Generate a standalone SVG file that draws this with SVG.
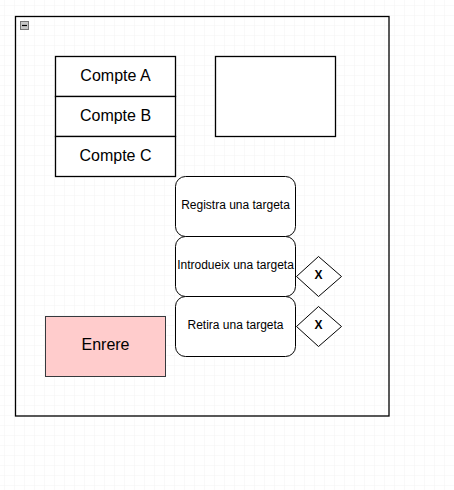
<svg xmlns="http://www.w3.org/2000/svg" width="454" height="490" viewBox="0 0 454 490">
<defs>
<pattern id="minor" x="5" y="6" width="10" height="10" patternUnits="userSpaceOnUse">
<path d="M10 0V10M0 10H10" fill="none" stroke="#f3f3f3" stroke-width="1"/>
</pattern>
<pattern id="major" x="-25" y="-24" width="40" height="40" patternUnits="userSpaceOnUse">
<path d="M40.5 0V40M0 40.5H40" fill="none" stroke="#e2e2e2" stroke-width="1"/>
</pattern>
<style>
.t{font-family:"Liberation Sans",Arial,sans-serif;text-anchor:middle;dominant-baseline:central;fill:#000}
.box{fill:#fff;stroke:#000;stroke-width:1.3}
.rbox{fill:#fff;stroke:#000;stroke-width:1}
.dia{fill:#fff;stroke:#000;stroke-width:1}
</style>
</defs>
<rect width="454" height="490" fill="#fff"/>
<rect width="454" height="490" fill="url(#minor)"/>
<rect width="454" height="490" fill="url(#major)"/>
<g id="container">
<rect x="15.5" y="16.5" width="373.5" height="399.5" fill="none" stroke="#000" stroke-width="1.3"/>
<rect x="20.5" y="21.5" width="8" height="8" fill="#c8c8c8" stroke="#777" stroke-width="1"/>
<path d="M22 25.5H27" stroke="#000" stroke-width="1.2"/>
</g>
<g id="compteA"><rect class="box" x="55.5" y="56.5" width="120" height="40"/><text class="t" x="115.5" y="75" font-size="16">Compte A</text></g>
<g id="compteB"><rect class="box" x="55.5" y="96.5" width="120" height="40"/><text class="t" x="115.5" y="115" font-size="16">Compte B</text></g>
<g id="compteC"><rect class="box" x="55.5" y="136.5" width="120" height="40"/><text class="t" x="115.5" y="155" font-size="16">Compte C</text></g>
<g id="empty"><rect class="box" x="215.5" y="56.5" width="120" height="80"/></g>
<g id="registra"><rect class="rbox" x="175.5" y="176.5" width="120" height="60" rx="10"/><text class="t" x="235.5" y="205" font-size="12">Registra una targeta</text></g>
<g id="introdueix"><rect class="rbox" x="175.5" y="236.5" width="120" height="60" rx="10"/><text class="t" x="235.5" y="265" font-size="12">Introdueix una targeta</text></g>
<g id="retira"><rect class="rbox" x="175.5" y="296.5" width="120" height="60" rx="10"/><text class="t" x="235.5" y="325" font-size="12">Retira una targeta</text></g>
<g id="gateway1"><path class="dia" d="M318.5 256.5L341.5 276.5L318.5 296.5L296.5 276.5Z"/><text class="t" x="318.5" y="275" font-size="12" font-weight="bold">X</text></g>
<g id="gateway2"><path class="dia" d="M318.5 306.5L341.5 326.5L318.5 346.5L296.5 326.5Z"/><text class="t" x="318.5" y="325" font-size="12" font-weight="bold">X</text></g>
<g id="enrere"><rect x="45.5" y="316.5" width="120" height="60" fill="#ffcccc" stroke="#36393d" stroke-width="1"/><text class="t" x="105.5" y="344" font-size="16">Enrere</text></g>
<g id="connectors"></g>
</svg>
